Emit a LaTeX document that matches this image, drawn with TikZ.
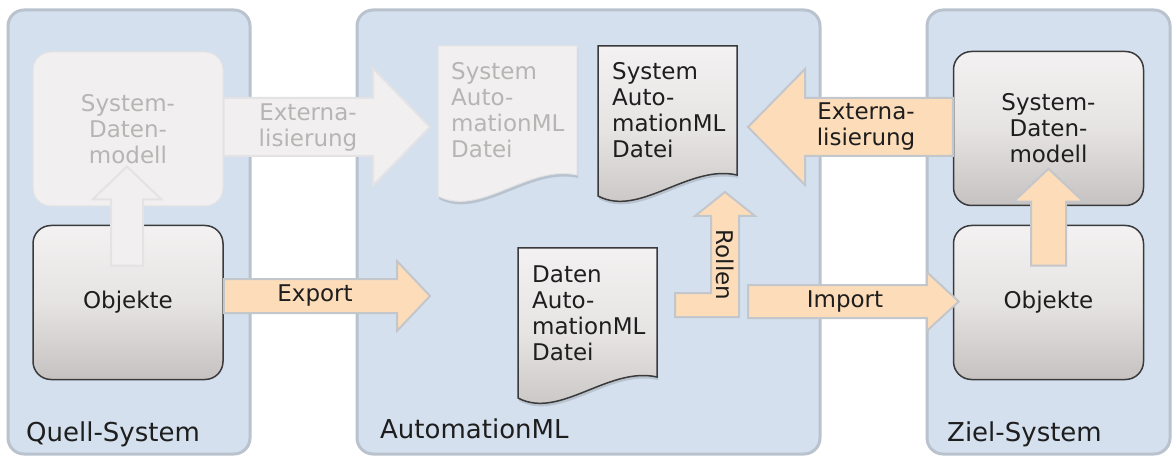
\documentclass[tikz,border=0pt]{standalone}
\usepackage{fontspec}
\setmainfont{DejaVu Sans}
\usetikzlibrary{calc}

\definecolor{panelfill}{HTML}{D4E0EE}
\definecolor{panelline}{HTML}{B9C2CD}
\definecolor{peach}{HTML}{FDDCB9}
\definecolor{arrowline}{HTML}{C3C6CB}
\definecolor{fadefill}{HTML}{F1EFEF}
\definecolor{fadeline}{HTML}{E3E3E5}
\definecolor{fadetext}{HTML}{B7B4B4}
\definecolor{boxtop}{HTML}{F3F1F1}
\definecolor{boxmid}{HTML}{E6E3E3}
\definecolor{boxbot}{HTML}{C6C2C2}
\definecolor{boxline}{HTML}{3A3A3A}
\definecolor{ink}{HTML}{1E1E1E}

\tikzset{
  every node/.style={font=\fontsize{23}{26}\selectfont, text=ink},
  panel/.style={rectangle, fill=panelfill, draw=panelline, line width=3pt, rounded corners=16pt},
  paneltitle/.style={anchor=base west, inner sep=0pt, font=\fontsize{26}{30}\selectfont},
  objbox/.style={rectangle, rounded corners=18pt, draw=boxline, line width=1.5pt,
    top color=boxtop, bottom color=boxbot, middle color=boxmid,
    minimum width=190pt, minimum height=154pt, inner sep=0pt, align=center},
  fadebox/.style={rectangle, rounded corners=18pt, draw=fadeline, line width=1pt, fill=fadefill,
    text=fadetext, minimum width=190pt, minimum height=154pt, inner sep=0pt, align=center},
  docshape/.style={draw=boxline, line width=1.5pt, top color=boxtop, bottom color=boxbot, middle color=boxmid},
  fadedoc/.style={draw=fadeline, line width=1pt, fill=fadefill},
  docshadow/.style={fill=black, opacity=0.13},
  doctext/.style={anchor=north west, inner sep=0pt, align=left},
  flow/.style={fill=peach, draw=arrowline, line width=2pt, line join=miter},
  fadeflow/.style={fill=fadefill, draw=fadeline, line width=2pt, line join=miter},
  flowlabel/.style={inner sep=0pt, align=center},
  fadelabel/.style={inner sep=0pt, align=center, text=fadetext}
}

% horizontal block arrow: style, tail, tip, shaft half-width, head half-width, head length (negative = pointing left)
\newcommand\hblockarrow[6]{%
  \path[#1] let \p1=(#2), \p2=(#3) in
    (\x1,{\y2+#4}) -- ({\x2-1*(#6)},{\y2+#4}) -- ({\x2-1*(#6)},{\y2+#5}) -- (\x2,\y2)
    -- ({\x2-1*(#6)},{\y2-#5}) -- ({\x2-1*(#6)},{\y2-#4}) -- (\x1,{\y2-#4}) -- cycle;}
% upward block arrow: style, tail, tip, shaft half-width, head half-width, head length
\newcommand\vblockarrow[6]{%
  \path[#1] let \p1=(#2), \p2=(#3) in
    ({\x2-#4},\y1) -- ({\x2-#4},{\y2-#6}) -- ({\x2-#5},{\y2-#6}) -- (\x2,\y2)
    -- ({\x2+#5},{\y2-#6}) -- ({\x2+#4},{\y2-#6}) -- ({\x2+#4},\y1) -- cycle;}
% document outline with a wavy bottom edge: left, top, width
\newcommand\docoutline[3]{%
  (#1,#2) -- ({#1+#3},#2) -- ({#1+#3},{#2+129})
  .. controls ({#1+0.65*#3},{#2+118}) and ({#1+0.3*#3},{#2+172}) .. (#1,{#2+150}) -- cycle}

\begin{document}
\begin{tikzpicture}[x=1pt,y=-1pt]
\useasboundingbox (0,0) rectangle (1173,457);

% system panels
\node[panel, minimum width=242pt, minimum height=444pt] (quell) at (129,232) {};
\node[panel, minimum width=463pt, minimum height=444pt] (aml) at (588.5,232) {};
\node[panel, minimum width=243pt, minimum height=444pt] (ziel) at (1048.5,232) {};
\node[paneltitle] (quellT) at (26,441) {Quell-System};
\node[paneltitle] (amlT) at (380,438) {AutomationML};
\node[paneltitle] (zielT) at (947,441) {Ziel-System};

% source system
\node[fadebox] (qdm) at (128,129) {System-\\Daten-\\modell};
\node[objbox] (qobj) at (128,302.5) {Objekte};

% target system
\node[objbox] (zdm) at (1048.5,128.5) {System-\\Daten-\\modell};
\node[objbox] (zobj) at (1048.5,302.5) {Objekte};

% AutomationML documents
\fill[docshadow] [shift={(1,3)}] \docoutline{438}{46}{139};
\path[fadedoc] \docoutline{438}{46}{139};
\node[doctext, text=fadetext] (fdoc) at (451,62) {System\\Auto-\\mationML\\Datei};

\fill[docshadow] [shift={(1,3)}] \docoutline{598}{46}{139};
\path[docshape] \docoutline{598}{46}{139};
\node[doctext] (sdoc) at (612,62) {System\\Auto-\\mationML\\Datei};

\fill[docshadow] [shift={(1,3)}] \docoutline{518}{248}{139};
\path[docshape] \docoutline{518}{248}{139};
\node[doctext] (ddoc) at (532,266) {Daten\\Auto-\\mationML\\Datei};

% connector end points
\coordinate (qupTail) at ($(qobj.north)+(-1,41)$);
\coordinate (qupTip)  at ($(qdm.south)+(-1,-40)$);
\coordinate (zupTail) at ($(zobj.north)+(0,41)$);
\coordinate (zupTip)  at ($(zdm.south)+(0,-37.5)$);
\coordinate (extLTip) at (430,127);
\coordinate (expTip)  at (430,296);
\coordinate (extRTip) at (748,127);
\coordinate (impTail) at (748,301.5);
\coordinate (impTip)  at ($(zobj.west)+(6,-1)$);

% block arrows
\hblockarrow{fadeflow}{qdm.east}{extLTip}{29}{58.5}{57}
\vblockarrow{fadeflow}{qupTail}{qupTip}{16}{34.5}{33}
\hblockarrow{flow}{qobj.east}{expTip}{17}{35}{33}
\hblockarrow{flow}{zdm.west}{extRTip}{29}{58}{-57}
\hblockarrow{flow}{impTail}{impTip}{16.5}{29.5}{32}
\vblockarrow{flow}{zupTail}{zupTip}{17.5}{35}{33}
% roles arrow: from the data file up to the system file
\path[flow] (675,293) -- (711,293) -- (711,216) -- (695,216) -- (725,192)
  -- (755,216) -- (739,216) -- (739,317) -- (675,317) -- cycle;

% arrow labels
\node[fadelabel] (extL) at (308,128) {Externa-\\lisierung};
\node[flowlabel] (expL) at (315,296) {Export};
\node[flowlabel] (extR) at (866,127) {Externa-\\lisierung};
\node[flowlabel] (impL) at (845,302) {Import};
\node[flowlabel, rotate=-90] (rolL) at (725,265) {Rollen};
\end{tikzpicture}
\end{document}
